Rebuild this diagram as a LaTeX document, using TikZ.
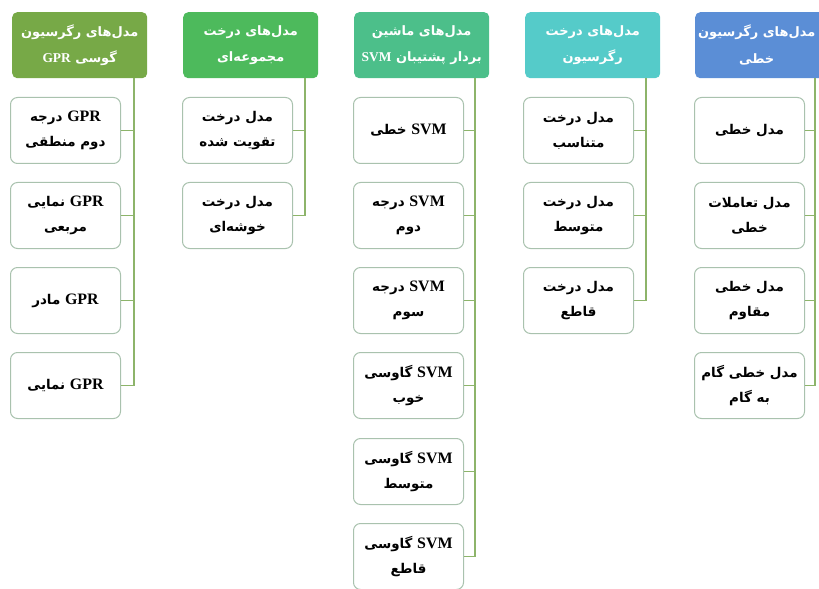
\documentclass[tikz,border=0pt]{standalone}
\usepackage{fontspec}
\setmainfont{Liberation Serif}
\newfontfamily\fa[Script=Arabic]{DejaVu Sans}
\newfontfamily\lat{Liberation Serif}
\TeXXeTstate=1
\newcommand{\rl}[1]{\beginR#1\endR}
\newcommand{\la}[1]{\beginL{\lat\bfseries\fontsize{16}{25}\selectfont #1}\endL{}}
\newcommand{\lh}[1]{\beginL{\lat\bfseries\fontsize{13.5}{27}\selectfont #1}\endL{}}
\definecolor{cA}{HTML}{77A947}
\definecolor{cB}{HTML}{4DBA5C}
\definecolor{cC}{HTML}{4CBF8A}
\definecolor{cD}{HTML}{55CBC9}
\definecolor{cE}{HTML}{5B8ED6}
\definecolor{boxc}{HTML}{A9C2AE}
\definecolor{linec}{HTML}{8DB46A}
\tikzset{
  headfont/.style={text=white, align=center, inner sep=0pt,
    font={\fa\bfseries\fontsize{13}{27}\selectfont}},
  head/.style={fill=#1, rounded corners=5bp, minimum width=135bp, minimum height=66bp,
    anchor=north west, headfont},
  child/.style={draw=boxc, line width=1bp, rounded corners=7bp, fill=white,
    minimum width=110bp, minimum height=66bp, align=center, anchor=north west,
    inner sep=0pt, text=black, font={\fa\bfseries\fontsize{13.5}{25}\selectfont}},
  conn/.style={draw=linec, line width=1.2bp}
}
\begin{document}
\begin{tikzpicture}[x=1bp,y=-1bp]
\useasboundingbox (0,0) rectangle (819,589);
% headers
\node[head=cA] (hA) at (12,12) {\rl{مدل‌های رگرسیون}\\\rl{گوسی \lh{GPR}}};
\node[head=cB] (hB) at (183,12) {\rl{مدل‌های درخت}\\\rl{مجموعه‌ای}};
\node[head=cC] (hC) at (354,12) {\rl{مدل‌های ماشین}\\\rl{بردار پشتیبان \lh{SVM}}};
\node[head=cD] (hD) at (525,12) {\rl{مدل‌های درخت}\\\rl{رگرسیون}};
\node[head=cE] (hE) at (695,12) {};
\node[headfont] (tE) at ([xshift=-6bp]hE.center) {\rl{مدل‌های رگرسیون}\\\rl{خطی}};
% column A
\node[child] (a1) at (10,97) {\rl{\la{GPR} درجه}\\\rl{دوم منطقی}};
\node[child] (a2) at (10,182) {\rl{\la{GPR} نمایی}\\\rl{مربعی}};
\node[child] (a3) at (10,267) {\rl{\la{GPR} مادر}};
\node[child] (a4) at (10,352) {\rl{\la{GPR} نمایی}};
% column B
\node[child] (b1) at (182,97) {\rl{مدل درخت}\\\rl{تقویت شده}};
\node[child] (b2) at (182,182) {\rl{مدل درخت}\\\rl{خوشه‌ای}};
% column C
\node[child] (c1) at (353,97) {\rl{\la{SVM} خطی}};
\node[child] (c2) at (353,182) {\rl{\la{SVM} درجه}\\\rl{دوم}};
\node[child] (c3) at (353,267) {\rl{\la{SVM} درجه}\\\rl{سوم}};
\node[child] (c4) at (353,352) {\rl{\la{SVM} گاوسی}\\\rl{خوب}};
\node[child] (c5) at (353,438) {\rl{\la{SVM} گاوسی}\\\rl{متوسط}};
\node[child] (c6) at (353,523) {\rl{\la{SVM} گاوسی}\\\rl{قاطع}};
% column D
\node[child] (d1) at (523,97) {\rl{مدل درخت}\\\rl{متناسب}};
\node[child] (d2) at (523,182) {\rl{مدل درخت}\\\rl{متوسط}};
\node[child] (d3) at (523,267) {\rl{مدل درخت}\\\rl{قاطع}};
% column E
\node[child] (e1) at (694,97) {\rl{مدل خطی}};
\node[child] (e2) at (694,182) {\rl{مدل تعاملات}\\\rl{خطی}};
\node[child] (e3) at (694,267) {\rl{مدل خطی}\\\rl{مقاوم}};
\node[child] (e4) at (694,352) {\rl{مدل خطی گام}\\\rl{به گام}};
% spine tops
\coordinate (vA) at (134,78);
\coordinate (vB) at (305,78);
\coordinate (vC) at (475,78);
\coordinate (vD) at (646,78);
\coordinate (vE) at (815,78);
% connectors
\draw[conn] (vA) |- (a4.east);
\foreach \n in {a1,a2,a3} \draw[conn] (\n.east) -- (\n.east -| vA);
\draw[conn] (vB) |- (b2.east);
\draw[conn] (b1.east) -- (b1.east -| vB);
\draw[conn] (vC) |- (c6.east);
\foreach \n in {c1,c2,c3,c4,c5} \draw[conn] (\n.east) -- (\n.east -| vC);
\draw[conn] (vD) |- (d3.east);
\foreach \n in {d1,d2} \draw[conn] (\n.east) -- (\n.east -| vD);
\draw[conn] (vE) |- (e4.east);
\foreach \n in {e1,e2,e3} \draw[conn] (\n.east) -- (\n.east -| vE);
\end{tikzpicture}
\end{document}
